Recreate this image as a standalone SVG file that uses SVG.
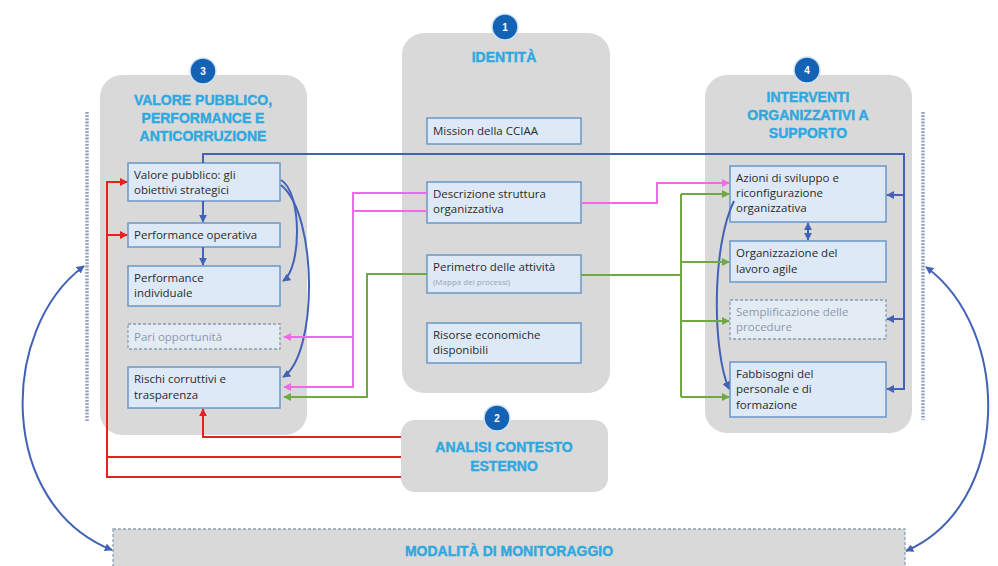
<svg xmlns="http://www.w3.org/2000/svg" width="998" height="566" viewBox="0 0 998 566">
<style>
.panel{fill:#d9d9d9}
.box{fill:#dde9f6;stroke:#6b97c8;stroke-width:1.5}
.dbox{fill:#e3ebf4;stroke:#8a9db4;stroke-width:1.3;stroke-dasharray:3 2}
.t{font-family:"Open Sans","Liberation Sans",sans-serif;font-size:11.5px;fill:#2b2b2b}
.tg{font-family:"Open Sans","Liberation Sans",sans-serif;font-size:11.5px;fill:#8c9aab}
.ts{font-family:"Open Sans","Liberation Sans",sans-serif;font-size:8px;fill:#9aa6b4}
.title{font-family:"Liberation Sans",sans-serif;font-size:14px;font-weight:bold;fill:#2ea8e0;stroke:#2ea8e0;stroke-width:0.4;text-anchor:middle}
.badge{fill:#1462b4;stroke:#cfe3f5;stroke-width:1.5}
.bn{font-family:"Liberation Sans",sans-serif;font-size:10px;font-weight:bold;fill:#ffffff;text-anchor:middle}
.blue{fill:none;stroke:#4262b8;stroke-width:2}
.pink{fill:none;stroke:#ee6ae6;stroke-width:2}
.green{fill:none;stroke:#6fa844;stroke-width:2}
.red{fill:none;stroke:#e52222;stroke-width:2}
.dots{fill:none;stroke:#8d9fbc;stroke-width:3.5;stroke-dasharray:1.8 1.4}
</style>
<defs>
<marker id="ab" viewBox="0 0 10 10" refX="9" refY="5" markerWidth="4" markerHeight="4" orient="auto-start-reverse"><path d="M0,0 L10,5 L0,10 z" fill="#4262b8"/></marker>
<marker id="ap" viewBox="0 0 10 10" refX="9" refY="5" markerWidth="4" markerHeight="4" orient="auto"><path d="M0,0 L10,5 L0,10 z" fill="#ee6ae6"/></marker>
<marker id="ag" viewBox="0 0 10 10" refX="9" refY="5" markerWidth="4" markerHeight="4" orient="auto"><path d="M0,0 L10,5 L0,10 z" fill="#6fa844"/></marker>
<marker id="ar" viewBox="0 0 10 10" refX="9" refY="5" markerWidth="4" markerHeight="4" orient="auto"><path d="M0,0 L10,5 L0,10 z" fill="#e52222"/></marker>
</defs>

<g id="panel-valore">
<rect class="panel" x="100" y="75" width="207" height="360" rx="22"/>
<circle class="badge" cx="203" cy="71" r="13"/>
<text class="bn" x="203" y="75">3</text>
<text class="title" x="203" y="105">VALORE PUBBLICO,</text>
<text class="title" x="203" y="123">PERFORMANCE E</text>
<text class="title" x="203" y="141">ANTICORRUZIONE</text>
</g>
<g id="panel-identita">
<rect class="panel" x="402" y="33" width="208" height="360" rx="22"/>
<circle class="badge" cx="505" cy="27" r="13"/>
<text class="bn" x="505" y="31">1</text>
<text class="title" x="504" y="62">IDENTITÀ</text>
</g>
<g id="panel-interventi">
<rect class="panel" x="705" y="75" width="207" height="358" rx="22"/>
<circle class="badge" cx="807" cy="70" r="13"/>
<text class="bn" x="807" y="74">4</text>
<text class="title" x="808" y="102">INTERVENTI</text>
<text class="title" x="808" y="120">ORGANIZZATIVI A</text>
<text class="title" x="808" y="138">SUPPORTO</text>
</g>
<g id="panel-analisi">
<rect class="panel" x="401" y="420" width="207" height="72" rx="14"/>
<circle class="badge" cx="497" cy="418" r="13"/>
<text class="bn" x="497" y="422">2</text>
<text class="title" x="504" y="452">ANALISI CONTESTO</text>
<text class="title" x="504" y="471">ESTERNO</text>
</g>
<g id="panel-monitoraggio">
<rect x="113" y="529" width="792" height="52" fill="#d9d9d9" stroke="#8ea0b8" stroke-width="1.3" stroke-dasharray="3 2"/>
<text class="title" x="509" y="556">MODALITÀ DI MONITORAGGIO</text>
</g>

<g id="dotted-bars">
<path class="dots" d="M87,112 V422"/>
<path class="dots" d="M923,112 V420"/>
</g>

<g id="node-valore"><rect class="box" x="128" y="163" width="152" height="38"/>
<text class="t" x="134" y="179">Valore pubblico: gli</text><text class="t" x="134" y="194">obiettivi strategici</text></g>
<g id="node-perf-op"><rect class="box" x="128" y="223" width="152" height="24"/>
<text class="t" x="134" y="239">Performance operativa</text></g>
<g id="node-perf-ind"><rect class="box" x="128" y="266" width="152" height="40"/>
<text class="t" x="134" y="282">Performance</text><text class="t" x="134" y="297">individuale</text></g>
<g id="node-pari"><rect class="dbox" x="128" y="324" width="152" height="25"/>
<text class="tg" x="134" y="341">Pari opportunità</text></g>
<g id="node-rischi"><rect class="box" x="128" y="367" width="152" height="41"/>
<text class="t" x="134" y="383">Rischi corruttivi e</text><text class="t" x="134" y="399">trasparenza</text></g>

<g id="node-mission"><rect class="box" x="427" y="118" width="154" height="26"/>
<text class="t" x="433" y="135">Mission della CCIAA</text></g>
<g id="node-descrizione"><rect class="box" x="427" y="182" width="154" height="41"/>
<text class="t" x="433" y="198">Descrizione struttura</text><text class="t" x="433" y="213">organizzativa</text></g>
<g id="node-perimetro"><rect class="box" x="427" y="255" width="154" height="38"/>
<text class="t" x="433" y="271">Perimetro delle attività</text><text class="ts" x="433" y="285">(Mappa dei processi)</text></g>
<g id="node-risorse"><rect class="box" x="427" y="323" width="154" height="40"/>
<text class="t" x="433" y="339">Risorse economiche</text><text class="t" x="433" y="354">disponibili</text></g>

<g id="node-azioni"><rect class="box" x="730" y="166" width="156" height="56"/>
<text class="t" x="736" y="182">Azioni di sviluppo e</text><text class="t" x="736" y="197">riconfigurazione</text><text class="t" x="736" y="212">organizzativa</text></g>
<g id="node-agile"><rect class="box" x="730" y="241" width="156" height="41"/>
<text class="t" x="736" y="257">Organizzazione del</text><text class="t" x="736" y="273">lavoro agile</text></g>
<g id="node-semplificazione"><rect class="dbox" x="730" y="300" width="156" height="39"/>
<text class="tg" x="736" y="316">Semplificazione delle</text><text class="tg" x="736" y="331">procedure</text></g>
<g id="node-fabbisogni"><rect class="box" x="730" y="362" width="156" height="55"/>
<text class="t" x="736" y="378">Fabbisogni del</text><text class="t" x="736" y="393">personale e di</text><text class="t" x="736" y="409">formazione</text></g>

<g id="connectors">
<path class="blue" d="M203,201 V222" marker-end="url(#ab)"/>
<path class="blue" d="M203,247 V265" marker-end="url(#ab)"/>
<path class="blue" d="M281,180 C302,192 302,268 283,281" marker-end="url(#ab)"/>
<path class="blue" d="M281,185 C318,215 318,355 283,377" marker-end="url(#ab)"/>
<path class="blue" d="M203,163 V154 H904 V389 H887" marker-end="url(#ab)"/>
<path class="blue" d="M904,195 H887" marker-end="url(#ab)"/>
<path class="blue" d="M904,319 H887" marker-end="url(#ab)"/>
<path class="blue" d="M808,223 V240" marker-start="url(#ab)" marker-end="url(#ab)"/>
<path class="blue" d="M734,201 C712,245 712,350 729,389" marker-end="url(#ab)"/>
<path class="blue" d="M84,266 C-2,330 -2,505 112,550" marker-start="url(#ab)" marker-end="url(#ab)"/>
<path class="blue" d="M926,267 C1012,330 1012,505 906,551" marker-start="url(#ab)" marker-end="url(#ab)"/>

<path class="pink" d="M427,193 H353 V387 H284" marker-end="url(#ap)"/>
<path class="pink" d="M427,211 H353"/>
<path class="pink" d="M353,337 H284" marker-end="url(#ap)"/>
<path class="pink" d="M581,203 H657 V183 H729" marker-end="url(#ap)"/>

<path class="green" d="M427,274 H367 V397 H284" marker-end="url(#ag)"/>
<path class="green" d="M581,275 H681"/>
<path class="green" d="M681,194 V397"/>
<path class="green" d="M681,194 H729" marker-end="url(#ag)"/>
<path class="green" d="M681,262 H729" marker-end="url(#ag)"/>
<path class="green" d="M681,321 H729" marker-end="url(#ag)"/>
<path class="green" d="M681,397 H729" marker-end="url(#ag)"/>

<path class="red" d="M401,477 H107 V182 H127" marker-end="url(#ar)"/>
<path class="red" d="M107,235 H127" marker-end="url(#ar)"/>
<path class="red" d="M401,457 H107"/>
<path class="red" d="M401,437 H203 V409" marker-end="url(#ar)"/>
</g>
</svg>
